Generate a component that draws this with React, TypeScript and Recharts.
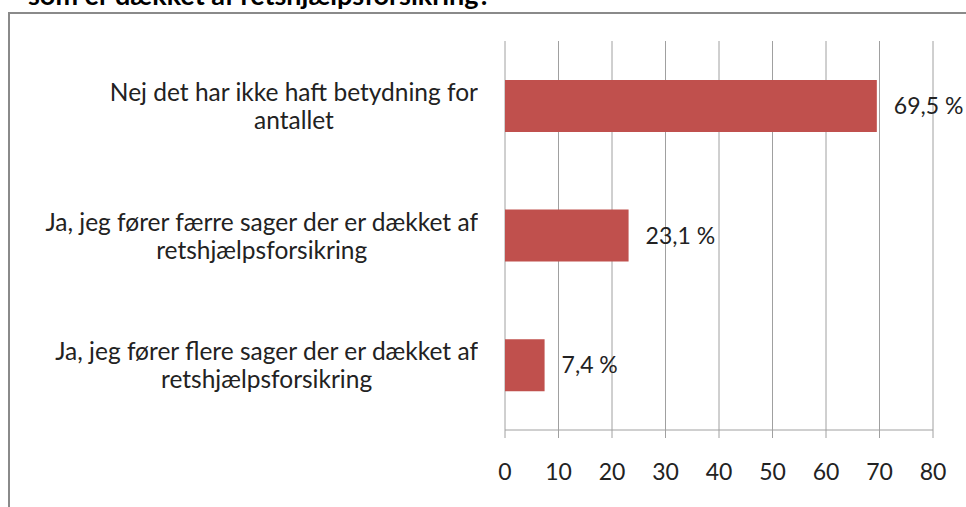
import React from "react";
import { BarChart, Bar, XAxis, YAxis, CartesianGrid, LabelList } from "recharts";

const categories: string[][] = [
  ["Nej det har ikke haft betydning for", "antallet"],
  ["Ja, jeg fører færre sager der er dækket af", "retshjælpsforsikring"],
  ["Ja, jeg fører flere sager der er dækket af", "retshjælpsforsikring"],
];
const values: number[] = [69.5, 23.1, 7.4];
const xTicks: number[] = [0, 10, 20, 30, 40, 50, 60, 70, 80];
const boundaryTicks: number[] = [0, 1, 2, 3];
const titleText = "som er dækket af retshjælpsforsikring?";

const data = categories.map((c, i) => ({ name: c.join("\n"), value: values[i] }));

const FONT = "Lato, 'Noto Sans', sans-serif";

const CatTick = (props: any) => {
  const { x, y, payload } = props;
  const lines = String(payload.value).split("\n");
  return (
    <foreignObject x={0} y={y - 40} width={x} height={80}>
      <div
        style={{
          display: "flex",
          justifyContent: "flex-end",
          alignItems: "center",
          height: "100%",
          fontFamily: FONT,
          fontSize: 24.5,
          color: "#222",
        }}
      >
        <div style={{ textAlign: "center", lineHeight: "28px", whiteSpace: "nowrap" }}>
          {lines.map((l, i) => (
            <div key={i}>{l}</div>
          ))}
        </div>
      </div>
    </foreignObject>
  );
};

const fmt = (v: any) => String(v).replace(".", ",") + " %";

export default function App() {
  return (
    <div
      style={{
        position: "absolute",
        left: 0,
        top: 0,
        width: 966,
        height: 507,
        overflow: "hidden",
        background: "#fff",
      }}
    >
      <div
        style={{
          position: "absolute",
          left: 28,
          top: -19,
          fontFamily: FONT,
          fontWeight: 700,
          fontSize: 27,
          lineHeight: "27px",
          color: "#000",
          whiteSpace: "nowrap",
        }}
      >
        {titleText}
      </div>
      <div
        style={{
          position: "absolute",
          left: 8,
          top: 12,
          width: 1000,
          height: 600,
          borderLeft: "2px solid #8a8a8a",
          borderTop: "2px solid #8a8a8a",
        }}
      />
      <div style={{ position: "absolute", left: 0, top: 0 }}>
        <BarChart
          width={966}
          height={507}
          layout="vertical"
          data={data}
          margin={{ top: 41, right: 33, bottom: 0, left: 0 }}
          barCategoryGap="30%"
        >
          <CartesianGrid horizontal={false} stroke="#a0a0a0" />
          <XAxis
            type="number"
            domain={[0, 80]}
            ticks={xTicks}
            interval={0}
            height={77}
            tickSize={8}
            tickMargin={26}
            stroke="#a0a0a0"
            tick={{ fill: "#222", fontSize: 23, fontFamily: FONT }}
          />
          <YAxis
            yAxisId="b"
            type="number"
            domain={[0, 3]}
            ticks={boundaryTicks}
            width={0}
            tickSize={8}
            tick={false}
            stroke="#a0a0a0"
          />
          <YAxis
            yAxisId="cat"
            type="category"
            dataKey="name"
            width={505}
            tickSize={0}
            tickMargin={27}
            axisLine={false}
            tickLine={false}
            tick={<CatTick />}
          />
          <Bar dataKey="value" yAxisId="cat" fill="#c0504d" isAnimationActive={false}>
            <LabelList
              dataKey="value"
              position="right"
              offset={17}
              formatter={fmt}
              style={{ fill: "#222", fontSize: 23, fontFamily: FONT }}
            />
          </Bar>
        </BarChart>
      </div>
    </div>
  );
}
